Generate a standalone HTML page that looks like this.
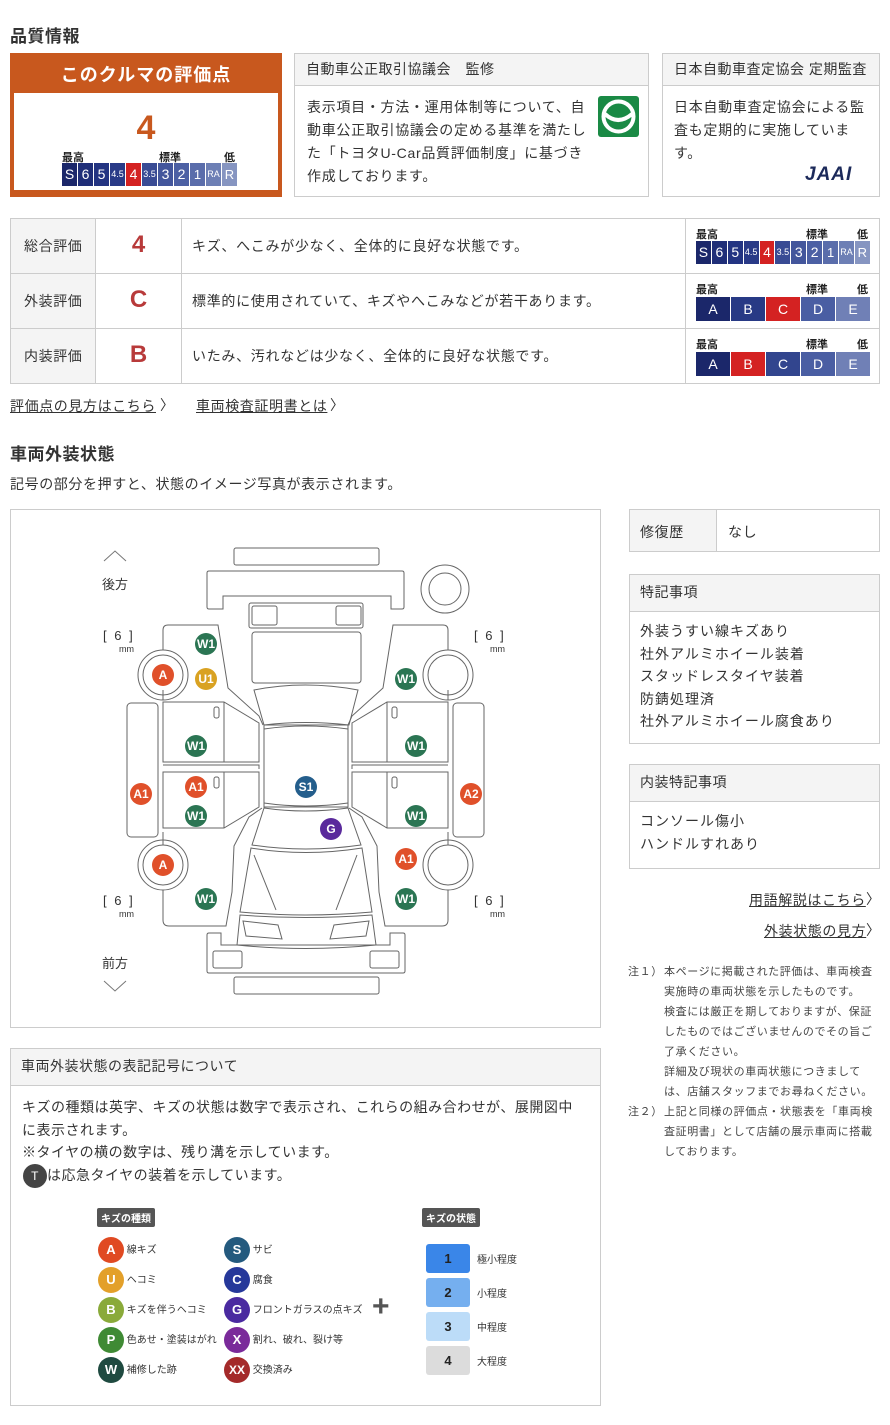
<!DOCTYPE html>
<html><head><meta charset="utf-8">
<style>
*{margin:0;padding:0;box-sizing:border-box}
body{width:890px;height:1425px;background:#fff;position:relative;font-family:"Liberation Sans","Noto Sans CJK JP",sans-serif;color:#333;font-size:14px;overflow:hidden}
.a{position:absolute}
.bx{position:absolute;border:1px solid #ccc;background:#fff}
.hd{background:#f4f4f4;border-bottom:1px solid #ccc;padding-left:11px;font-size:14px;letter-spacing:.5px}
.t{letter-spacing:.7px;line-height:23px}
.sc{display:flex;gap:1px}
.sc span{display:block;color:#fff;text-align:center;font-weight:normal}
.lk{text-decoration:underline;letter-spacing:.6px;font-size:14px}
.note{font-size:11px;line-height:20px;letter-spacing:.6px;color:#444}
.bd{position:absolute;width:22px;height:22px;border-radius:50%;color:#fff;font-size:12px;text-align:center;line-height:22px;font-weight:bold}
</style></head><body>

<div class="a" style="left:10px;top:22px;font-size:17px;font-weight:bold;letter-spacing:.5px">品質情報</div>

<div class="a" style="left:10px;top:53px;width:272px;height:144px;background:#c8581e;padding:4px">
 <div style="height:36px;color:#fff;font-weight:bold;font-size:18px;text-align:center;line-height:36px;letter-spacing:1px">このクルマの評価点</div>
 <div style="background:#fff;height:97px;position:relative">
  <div class="a" style="left:0;width:264px;top:16px;text-align:center;color:#c8581e;font-size:34px;font-weight:bold">4</div>
  <div class="a" style="left:48px;top:56px;font-size:11px;font-weight:bold;color:#222">最高</div>
  <div class="a" style="left:145px;top:56px;font-size:11px;font-weight:bold;color:#222">標準</div>
  <div class="a" style="left:210px;top:56px;font-size:11px;font-weight:bold;color:#222">低</div>
  <div class="a sc" style="left:48px;top:70px;height:23px">
   <span style="width:15px;background:#1b276a;line-height:23px;font-size:14px">S</span>
   <span style="width:15px;background:#1f2e78;line-height:23px;font-size:14px">6</span>
   <span style="width:15px;background:#233482;line-height:23px;font-size:14px">5</span>
   <span style="width:15px;background:#293a87;line-height:23px;font-size:9px">4.5</span>
   <span style="width:15px;background:#d42222;line-height:23px;font-size:14px">4</span>
   <span style="width:15px;background:#394b94;line-height:23px;font-size:9px">3.5</span>
   <span style="width:15px;background:#43569c;line-height:23px;font-size:14px">3</span>
   <span style="width:15px;background:#4c60a4;line-height:23px;font-size:14px">2</span>
   <span style="width:15px;background:#5a6dab;line-height:23px;font-size:13px">1</span>
   <span style="width:15px;background:#6d7fb5;line-height:23px;font-size:9px">RA</span>
   <span style="width:15px;background:#8695c1;line-height:23px;font-size:13px">R</span>
  </div>
 </div>
</div>

<div class="bx" style="left:294px;top:53px;width:355px;height:144px">
 <div class="hd" style="height:32px;line-height:31px">自動車公正取引協議会　監修</div>
 <div class="a t" style="left:12px;top:42px;width:285px;font-size:14px">表示項目・方法・運用体制等について、自動車公正取引協議会の定める基準を満たした「トヨタU-Car品質評価制度」に基づき作成しております。</div>
 <svg class="a" style="left:303px;top:42px" width="41" height="41"><rect width="41" height="41" rx="3" fill="#1a8a45"/><circle cx="20.5" cy="20.5" r="15" fill="none" stroke="#fff" stroke-width="4"/><path d="M7 18 Q20 30 34 18" fill="none" stroke="#fff" stroke-width="4"/></svg>
</div>

<div class="bx" style="left:662px;top:53px;width:218px;height:144px">
 <div class="hd" style="height:32px;line-height:31px">日本自動車査定協会 定期監査</div>
 <div class="a t" style="left:11px;top:42px;width:200px">日本自動車査定協会による監査も定期的に実施しています。</div>
 <div class="a" style="left:142px;top:110px;font-size:19px;font-weight:bold;font-style:italic;color:#1c2a5a;letter-spacing:1px">JAAI</div>
</div>

<div class="bx" style="left:10px;top:218px;width:870px;height:166px">
 <div class="a" style="left:0;top:0;width:85px;height:164px;background:#f4f4f4;border-right:1px solid #ccc"></div>
 <div class="a" style="left:170px;top:0;width:1px;height:164px;background:#ccc"></div>
 <div class="a" style="left:674px;top:0;width:1px;height:164px;background:#ccc"></div>
 <div class="a" style="left:0;top:54px;width:868px;height:1px;background:#ccc"></div>
 <div class="a" style="left:0;top:109px;width:868px;height:1px;background:#ccc"></div>
 <div class="a" style="left:13px;top:17px;letter-spacing:.6px">総合評価</div>
 <div class="a" style="left:13px;top:72px;letter-spacing:.6px">外装評価</div>
 <div class="a" style="left:13px;top:127px;letter-spacing:.6px">内装評価</div>
 <div class="a" style="left:85px;width:85px;top:12px;text-align:center;color:#b83a3a;font-size:24px;font-weight:bold">4</div>
 <div class="a" style="left:85px;width:85px;top:67px;text-align:center;color:#b83a3a;font-size:24px;font-weight:bold">C</div>
 <div class="a" style="left:85px;width:85px;top:122px;text-align:center;color:#b83a3a;font-size:24px;font-weight:bold">B</div>
 <div class="a" style="left:181px;top:17px;letter-spacing:.7px">キズ、へこみが少なく、全体的に良好な状態です。</div>
 <div class="a" style="left:181px;top:72px;letter-spacing:.7px">標準的に使用されていて、キズやへこみなどが若干あります。</div>
 <div class="a" style="left:181px;top:127px;letter-spacing:.7px">いたみ、汚れなどは少なく、全体的に良好な状態です。</div>

 <div class="a" style="left:685px;top:7px;font-size:11px;font-weight:bold;color:#222">最高</div>
 <div class="a" style="left:795px;top:7px;font-size:11px;font-weight:bold;color:#222">標準</div>
 <div class="a" style="left:846px;top:7px;font-size:11px;font-weight:bold;color:#222">低</div>
 <div class="a sc" style="left:685px;top:22px;height:23px">
   <span style="width:14.9px;background:#1b276a;line-height:23px;font-size:14px">S</span>
   <span style="width:14.9px;background:#1f2e78;line-height:23px;font-size:14px">6</span>
   <span style="width:14.9px;background:#233482;line-height:23px;font-size:14px">5</span>
   <span style="width:14.9px;background:#293a87;line-height:23px;font-size:9px">4.5</span>
   <span style="width:14.9px;background:#d42222;line-height:23px;font-size:14px">4</span>
   <span style="width:14.9px;background:#394b94;line-height:23px;font-size:9px">3.5</span>
   <span style="width:14.9px;background:#43569c;line-height:23px;font-size:14px">3</span>
   <span style="width:14.9px;background:#4c60a4;line-height:23px;font-size:14px">2</span>
   <span style="width:14.9px;background:#5a6dab;line-height:23px;font-size:13px">1</span>
   <span style="width:14.9px;background:#6d7fb5;line-height:23px;font-size:9px">RA</span>
   <span style="width:14.9px;background:#8695c1;line-height:23px;font-size:13px">R</span>
 </div>
 <div class="a" style="left:685px;top:62px;font-size:11px;font-weight:bold;color:#222">最高</div>
 <div class="a" style="left:795px;top:62px;font-size:11px;font-weight:bold;color:#222">標準</div>
 <div class="a" style="left:846px;top:62px;font-size:11px;font-weight:bold;color:#222">低</div>
 <div class="a sc" style="left:685px;top:78px;height:24px">
   <span style="width:34px;background:#1b276a;line-height:24px">A</span>
   <span style="width:34px;background:#283a85;line-height:24px">B</span>
   <span style="width:34px;background:#d42222;line-height:24px">C</span>
   <span style="width:34px;background:#4a5ea3;line-height:24px">D</span>
   <span style="width:34px;background:#7080b6;line-height:24px">E</span>
 </div>
 <div class="a" style="left:685px;top:117px;font-size:11px;font-weight:bold;color:#222">最高</div>
 <div class="a" style="left:795px;top:117px;font-size:11px;font-weight:bold;color:#222">標準</div>
 <div class="a" style="left:846px;top:117px;font-size:11px;font-weight:bold;color:#222">低</div>
 <div class="a sc" style="left:685px;top:133px;height:24px">
   <span style="width:34px;background:#1b276a;line-height:24px">A</span>
   <span style="width:34px;background:#d42222;line-height:24px">B</span>
   <span style="width:34px;background:#32458e;line-height:24px">C</span>
   <span style="width:34px;background:#4a5ea3;line-height:24px">D</span>
   <span style="width:34px;background:#7080b6;line-height:24px">E</span>
 </div>
</div>

<div class="a lk" style="left:10px;top:396px">評価点の見方はこちら</div><div class="a" style="left:160px;top:395px;font-size:14px">〉</div>
<div class="a lk" style="left:196px;top:396px">車両検査証明書とは</div><div class="a" style="left:330px;top:395px;font-size:14px">〉</div>

<div class="a" style="left:10px;top:440px;font-size:17px;font-weight:bold;letter-spacing:.5px">車両外装状態</div>
<div class="a" style="left:10px;top:474px;letter-spacing:.6px">記号の部分を押すと、状態のイメージ写真が表示されます。</div>

<div class="bx" style="left:10px;top:509px;width:591px;height:519px"></div>
<svg class="a" style="left:0;top:0" width="890" height="1425" fill="none" stroke="#666" stroke-width="1">
 <polyline points="104,561 115,551 126,561" stroke="#777"/>
 <polyline points="104,981 115,991 126,981" stroke="#777"/>
 <rect x="234" y="548" width="145" height="17" rx="2"/>
 <path d="M209,571 H402 Q404,571 404,573 V607 Q404,609 402,609 H391 V596 H223 V609 H209 Q207,609 207,607 V573 Q207,571 209,571Z"/>
 <rect x="249" y="603" width="114" height="25" rx="2"/>
 <rect x="252" y="606" width="25" height="19" rx="2"/><rect x="336" y="606" width="25" height="19" rx="2"/>
 <rect x="252" y="632" width="109" height="51" rx="3"/>
 <circle cx="445" cy="589" r="24"/><circle cx="445" cy="589" r="16"/>
 <path d="M254,690 Q305,680 358,690 L349,725 Q305,720 264,725Z"/>
 <rect x="264" y="725" width="84" height="82"/>
 <path d="M264,729 Q305,723 348,729 M264,803 Q305,809 348,803"/>
 <path d="M264,808 Q305,814 348,808 L361,845 Q305,853 252,845Z"/>
 <path d="M251,848 Q305,857 362,848 L372,912 Q305,918 240,912Z"/>
 <path d="M254,855 L276,910 M357,855 L336,910"/>
 <path d="M240,915 Q305,920 372,915 L376,945 Q305,952 237,945Z"/>
 <path d="M243,921 L278,925 L282,939 L246,936Z M369,921 L334,925 L330,939 L366,936Z"/>
 <path d="M209,933 H221 V945 H390 V933 H403 Q405,933 405,935 V971 Q405,973 403,973 H209 Q207,973 207,971 V935 Q207,933 209,933Z"/>
 <rect x="213" y="951" width="29" height="17" rx="2"/><rect x="370" y="951" width="29" height="17" rx="2"/>
 <rect x="234" y="977" width="145" height="17" rx="2"/>
 <g id="L">
  <circle cx="163" cy="675" r="25"/><circle cx="163" cy="675" r="20"/>
  <circle cx="163" cy="865" r="25"/><circle cx="163" cy="865" r="20"/>
  <path d="M163,650 V630 Q163,625 168,625 H218 L228,688 L259,716 L263,725"/>
  <path d="M163,890 V920 Q163,926 169,926 H226 L232,892 L234,846 L249,817 L262,808"/>
  <rect x="127" y="703" width="31" height="134" rx="4"/>
  <path d="M163,702 H224 L259,723 V762 H163 Z M224,702 V762"/>
  <path d="M163,772 H259 V807 L224,828 H163 Z M224,772 V828"/>
  <path d="M163,765 H259 V769 M163,832 V845 M163,700 V690"/>
  <rect x="214" y="707" width="5" height="11" rx="2"/><rect x="214" y="777" width="5" height="11" rx="2"/>
 </g>
 <use href="#L" transform="translate(611,0) scale(-1,1)"/>
</svg>
<div class="a" style="left:102px;top:574px;font-size:13px">後方</div>
<div class="a" style="left:102px;top:953px;font-size:13px">前方</div>
<div class="a" style="left:103px;top:628px;font-size:13px;letter-spacing:2px">[ 6 ]</div><div class="a" style="left:119px;top:644px;font-size:9px">mm</div>
<div class="a" style="left:474px;top:628px;font-size:13px;letter-spacing:2px">[ 6 ]</div><div class="a" style="left:490px;top:644px;font-size:9px">mm</div>
<div class="a" style="left:103px;top:893px;font-size:13px;letter-spacing:2px">[ 6 ]</div><div class="a" style="left:119px;top:909px;font-size:9px">mm</div>
<div class="a" style="left:474px;top:893px;font-size:13px;letter-spacing:2px">[ 6 ]</div><div class="a" style="left:490px;top:909px;font-size:9px">mm</div>

<div class="bd" style="left:195px;top:633px;background:#2b7553">W1</div>
<div class="bd" style="left:152px;top:664px;background:#e0502a">A</div>
<div class="bd" style="left:195px;top:668px;background:#d9a222">U1</div>
<div class="bd" style="left:395px;top:668px;background:#2b7553">W1</div>
<div class="bd" style="left:185px;top:735px;background:#2b7553">W1</div>
<div class="bd" style="left:405px;top:735px;background:#2b7553">W1</div>
<div class="bd" style="left:130px;top:783px;background:#e0502a">A1</div>
<div class="bd" style="left:185px;top:776px;background:#e0502a">A1</div>
<div class="bd" style="left:295px;top:776px;background:#245e8c">S1</div>
<div class="bd" style="left:460px;top:783px;background:#e0502a">A2</div>
<div class="bd" style="left:185px;top:805px;background:#2b7553">W1</div>
<div class="bd" style="left:405px;top:805px;background:#2b7553">W1</div>
<div class="bd" style="left:320px;top:818px;background:#5a2a9c">G</div>
<div class="bd" style="left:152px;top:854px;background:#e0502a">A</div>
<div class="bd" style="left:395px;top:848px;background:#e0502a">A1</div>
<div class="bd" style="left:195px;top:888px;background:#2b7553">W1</div>
<div class="bd" style="left:395px;top:888px;background:#2b7553">W1</div>

<div class="bx" style="left:629px;top:509px;width:251px;height:43px">
 <div class="a" style="left:0;top:0;width:87px;height:41px;background:#f4f4f4;border-right:1px solid #ccc"></div>
 <div class="a" style="left:10px;top:12px;letter-spacing:.6px">修復歴</div>
 <div class="a" style="left:98px;top:12px;letter-spacing:.6px">なし</div>
</div>
<div class="bx" style="left:629px;top:574px;width:251px;height:170px">
 <div class="hd" style="height:37px;line-height:35px;padding-left:10px">特記事項</div>
 <div class="a t" style="left:10px;top:45px;line-height:22.5px;letter-spacing:1px">外装うすい線キズあり<br>社外アルミホイール装着<br>スタッドレスタイヤ装着<br>防錆処理済<br>社外アルミホイール腐食あり</div>
</div>
<div class="bx" style="left:629px;top:764px;width:251px;height:105px">
 <div class="hd" style="height:37px;line-height:35px;padding-left:10px">内装特記事項</div>
 <div class="a t" style="left:10px;top:45px;line-height:22.5px;letter-spacing:1px">コンソール傷小<br>ハンドルすれあり</div>
</div>
<div class="a lk" style="left:749px;top:890px">用語解説はこちら</div><div class="a" style="left:866px;top:889px">〉</div>
<div class="a lk" style="left:764px;top:921px">外装状態の見方</div><div class="a" style="left:866px;top:920px">〉</div>

<div class="a note" style="left:628px;top:962px;width:255px">
 <div style="display:flex"><span style="width:36px;flex:none">注１）</span><span>本ページに掲載された評価は、車両検査実施時の車両状態を示したものです。<br>検査には厳正を期しておりますが、保証したものではございませんのでその旨ご了承ください。<br>詳細及び現状の車両状態につきましては、店舗スタッフまでお尋ねください。</span></div>
 <div style="display:flex"><span style="width:36px;flex:none">注２）</span><span>上記と同様の評価点・状態表を「車両検査証明書」として店舗の展示車両に搭載しております。</span></div>
</div>

<div class="bx" style="left:10px;top:1048px;width:591px;height:358px">
 <div class="hd" style="height:37px;line-height:35px;padding-left:10px">車両外装状態の表記記号について</div>
 <div class="a t" style="left:11px;top:47px;width:560px;line-height:22.5px;letter-spacing:.5px">キズの種類は英字、キズの状態は数字で表示され、これらの組み合わせが、展開図中に表示されます。<br>※タイヤの横の数字は、残り溝を示しています。<br><span style="display:inline-block;width:24px;height:24px;border-radius:50%;background:#444;color:#fff;text-align:center;line-height:24px;font-size:12px;vertical-align:middle;margin-left:1px">T</span>は応急タイヤの装着を示しています。</div>
</div>
<div class="a" style="left:97px;top:1208px;background:#555;color:#fff;font-size:10px;padding:2px 4px;border-radius:2px;font-weight:bold">キズの種類</div>
<div class="a" style="left:422px;top:1208px;background:#555;color:#fff;font-size:10px;padding:2px 4px;border-radius:2px;font-weight:bold">キズの状態</div>
<div class="a" style="left:98px;top:1236px;font-size:10px;line-height:30px">
 <div><span style="display:inline-block;width:26px;height:26px;border-radius:50%;background:#e04a22;color:#fff;text-align:center;line-height:26px;font-weight:bold;font-size:13px;vertical-align:middle">A</span> 線キズ</div>
 <div><span style="display:inline-block;width:26px;height:26px;border-radius:50%;background:#e3a02a;color:#fff;text-align:center;line-height:26px;font-weight:bold;font-size:13px;vertical-align:middle">U</span> ヘコミ</div>
 <div><span style="display:inline-block;width:26px;height:26px;border-radius:50%;background:#8aaa3a;color:#fff;text-align:center;line-height:26px;font-weight:bold;font-size:13px;vertical-align:middle">B</span> キズを伴うヘコミ</div>
 <div><span style="display:inline-block;width:26px;height:26px;border-radius:50%;background:#3f8a34;color:#fff;text-align:center;line-height:26px;font-weight:bold;font-size:13px;vertical-align:middle">P</span> 色あせ・塗装はがれ</div>
 <div><span style="display:inline-block;width:26px;height:26px;border-radius:50%;background:#1f4a40;color:#fff;text-align:center;line-height:26px;font-weight:bold;font-size:13px;vertical-align:middle">W</span> 補修した跡</div>
</div>
<div class="a" style="left:224px;top:1236px;font-size:10px;line-height:30px">
 <div><span style="display:inline-block;width:26px;height:26px;border-radius:50%;background:#245a7e;color:#fff;text-align:center;line-height:26px;font-weight:bold;font-size:13px;vertical-align:middle">S</span> サビ</div>
 <div><span style="display:inline-block;width:26px;height:26px;border-radius:50%;background:#26389a;color:#fff;text-align:center;line-height:26px;font-weight:bold;font-size:13px;vertical-align:middle">C</span> 腐食</div>
 <div><span style="display:inline-block;width:26px;height:26px;border-radius:50%;background:#4a2aa0;color:#fff;text-align:center;line-height:26px;font-weight:bold;font-size:13px;vertical-align:middle">G</span> フロントガラスの点キズ</div>
 <div><span style="display:inline-block;width:26px;height:26px;border-radius:50%;background:#7a2a9a;color:#fff;text-align:center;line-height:26px;font-weight:bold;font-size:13px;vertical-align:middle">X</span> 割れ、破れ、裂け等</div>
 <div><span style="display:inline-block;width:26px;height:26px;border-radius:50%;background:#a42a2a;color:#fff;text-align:center;line-height:26px;font-weight:bold;font-size:12px;vertical-align:middle">XX</span> 交換済み</div>
</div>
<div class="a" style="left:372px;top:1290px;font-size:30px;color:#555;font-weight:bold">+</div>
<div class="a" style="left:426px;top:1241px;font-size:10px">
 <div style="display:flex;align-items:center;height:34px"><span style="width:44px;height:29px;background:#3a86e8;border-radius:3px;text-align:center;line-height:29px;font-size:13px;font-weight:bold;color:#222">1</span><span style="margin-left:7px">極小程度</span></div>
 <div style="display:flex;align-items:center;height:34px"><span style="width:44px;height:29px;background:#75afef;border-radius:3px;text-align:center;line-height:29px;font-size:13px;font-weight:bold;color:#222">2</span><span style="margin-left:7px">小程度</span></div>
 <div style="display:flex;align-items:center;height:34px"><span style="width:44px;height:29px;background:#bcdcf8;border-radius:3px;text-align:center;line-height:29px;font-size:13px;font-weight:bold;color:#222">3</span><span style="margin-left:7px">中程度</span></div>
 <div style="display:flex;align-items:center;height:34px"><span style="width:44px;height:29px;background:#dcdcdc;border-radius:3px;text-align:center;line-height:29px;font-size:13px;font-weight:bold;color:#222">4</span><span style="margin-left:7px">大程度</span></div>
</div>
</body></html>
